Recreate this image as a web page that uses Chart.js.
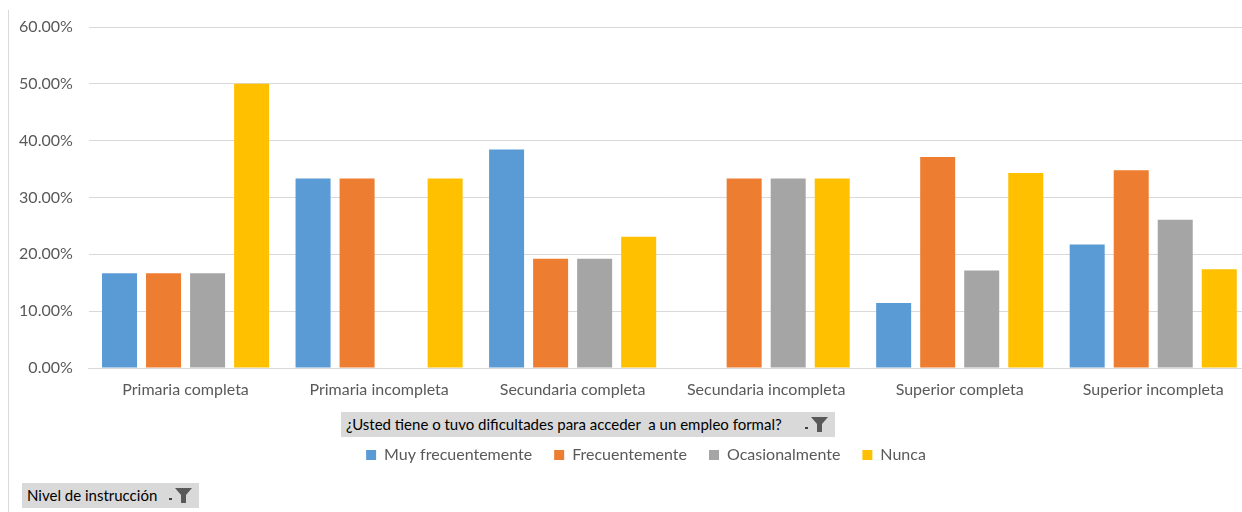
<!DOCTYPE html>
<html>
<head>
<meta charset="utf-8">
<script src="https://cdn.jsdelivr.net/npm/chart.js@4.4.1/dist/chart.umd.min.js"></script>
<style>
  html, body { margin: 0; padding: 0; background: #fff; overflow: hidden; width: 1242px; height: 512px; }
  #wrap { position: relative; width: 1250px; height: 512px; }
  #c { position: absolute; left: 0; top: 0; }
  .vline { position: absolute; left: 8px; top: 10px; width: 1px; height: 502px; background: #d9d9d9; }
  .fbtn { position: absolute; background: #d9d9d9; color: #000; font-family: Lato, "Open Sans", sans-serif; font-size: 15px; line-height: 25px; height: 25px; box-sizing: border-box; padding-left: 5px; white-space: nowrap; }
  .fbtn svg { position: absolute; right: 6px; top: 4px; }
</style>
</head>
<body>
<div id="wrap">
  <canvas id="c" width="1250" height="512"></canvas>
  <div class="vline"></div>
  <div class="fbtn" style="left:341px; top:412px; width:494px;">¿Usted tiene o tuvo dificultades para acceder&nbsp; a un empleo formal?
    <svg width="26" height="17" viewBox="0 0 26 17"><rect x="2" y="11" width="3" height="2" fill="#404040"/><path d="M8 1 H25 L19 8 V16 L14 16 V8 Z" fill="#595959"/></svg>
  </div>
  <div class="fbtn" style="left:22px; top:483px; width:177px;">Nivel de instrucción
    <svg width="26" height="17" viewBox="0 0 26 17"><rect x="2" y="11" width="3" height="2" fill="#404040"/><path d="M8 1 H25 L19 8 V16 L14 16 V8 Z" fill="#595959"/></svg>
  </div>
</div>
<script>
const categories = ["Primaria completa", "Primaria incompleta", "Secundaria completa", "Secundaria incompleta", "Superior completa", "Superior incompleta"];
const seriesNames = ["Muy frecuentemente", "Frecuentemente", "Ocasionalmente", "Nunca"];
const muyFrecuentemente = [16.67, 33.33, 38.46, 0, 11.43, 21.74];
const frecuentemente = [16.67, 33.33, 19.23, 33.33, 37.14, 34.78];
const ocasionalmente = [16.67, 0, 19.23, 33.33, 17.14, 26.09];
const nunca = [50.00, 33.33, 23.08, 33.33, 34.29, 17.39];
const yTicks = [0, 10, 20, 30, 40, 50, 60];

const colors = ["#5B9BD5", "#ED7D31", "#A5A5A5", "#FFC000"];
const seriesValues = [muyFrecuentemente, frecuentemente, ocasionalmente, nunca];
const FONT = 'Lato, "Open Sans", sans-serif';

const shiftLegend = {
  id: 'shiftLegend',
  afterLayout(chart) {
    chart.legend.left += 21;
    chart.legend.right += 21;
  }
};

new Chart(document.getElementById('c'), {
  type: 'bar',
  data: {
    labels: categories,
    datasets: seriesNames.map((n, i) => ({
      label: n,
      data: seriesValues[i],
      backgroundColor: colors[i],
      borderWidth: 0,
      categoryPercentage: 0.91,
      barPercentage: 0.795
    }))
  },
  plugins: [shiftLegend],
  options: {
    responsive: false,
    animation: false,
    layout: { padding: { left: 0, right: 0, top: 27, bottom: 39 } },
    plugins: {
      tooltip: { enabled: false },
      legend: {
        position: 'bottom',
        labels: {
          boxWidth: 10, boxHeight: 10, padding: 22,
          color: '#595959',
          font: { family: FONT, size: 16 }
        }
      }
    },
    scales: {
      x: {
        grid: { display: false, drawTicks: false },
        border: { display: true, color: '#d9d9d9', width: 1 },
        ticks: { color: '#595959', font: { family: FONT, size: 16 }, padding: 12, maxRotation: 0 },
        afterFit: s => { s.height = 57; }
      },
      y: {
        min: 0, max: 60,
        afterBuildTicks: s => { s.ticks = yTicks.map(v => ({ value: v })); },
        grid: { color: '#d9d9d9', drawTicks: false },
        border: { display: false },
        ticks: { color: '#595959', font: { family: FONT, size: 16 }, padding: 16, callback: v => v.toFixed(2) + '%' },
        afterFit: s => { s.width = 88.8; }
      }
    }
  }
});
</script>
</body>
</html>
